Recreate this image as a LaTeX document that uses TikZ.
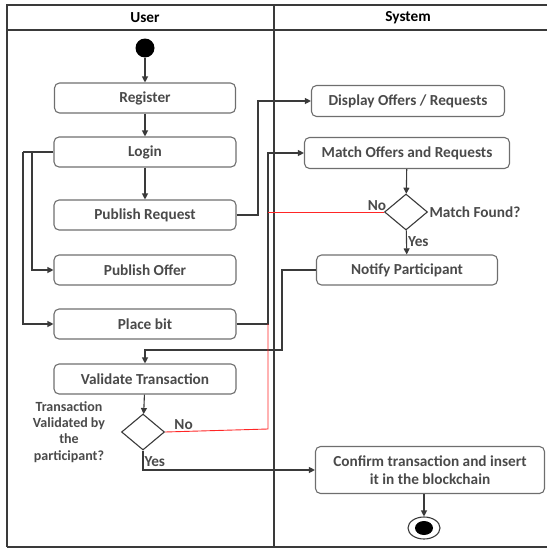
\documentclass[tikz,border=0pt]{standalone}
\usepackage{fontspec}
\setmainfont{Carlito}
\usetikzlibrary{arrows.meta,shapes.geometric}
\definecolor{linegray}{HTML}{3A3A3A}
\definecolor{boxgray}{HTML}{6E6E6E}
\definecolor{textgray}{HTML}{4A4A4A}
\begin{document}
\begin{tikzpicture}[x=1pt, y=-1pt, line width=1.1pt, font=\fontsize{15.3}{18}\selectfont\bfseries,
    activity/.style={draw=boxgray, rounded corners=5pt, minimum height=30pt, text=textgray, inner sep=2pt},
    decision/.style={draw=linegray, diamond, minimum width=43pt, minimum height=36pt, inner sep=0pt},
    flow/.style={draw=linegray, -{Triangle[length=6pt,width=6pt]}},
    back/.style={draw=red!85!white, line width=0.9pt},
    lbl/.style={text=textgray, inner sep=1pt}]
    \useasboundingbox (0,0) rectangle (547,549);

    % swimlanes
    \draw[linegray] (7,547) -- (7,5) -- (547,5);
    \draw[linegray] (7,30) -- (547,30);
    \draw[linegray] (7,547) -- (547,547);
    \draw[linegray] (274,5) -- (274,547);
    \node[text=black] (lane user) at (145,18) {User};
    \node[text=black] (lane system) at (408,18) {System};

    % user lane
    \node[circle, fill=black, minimum size=19pt, inner sep=0pt] (start) at (145,48) {};
    \node[activity, minimum width=181pt] (register) at (145,98) {Register};
    \node[activity, minimum width=182pt] (login) at (145,152) {Login};
    \node[activity, minimum width=182pt] (pubreq) at (145,215) {Publish Request};
    \node[activity, minimum width=182pt] (puboffer) at (145,270) {Publish Offer};
    \node[activity, minimum width=182pt] (placebid) at (145,324) {Place bit};
    \node[activity, minimum width=182pt] (validate) at (145,379) {Validate Transaction};
    \node[decision] (valdec) at (143,432) {};
    \node[lbl, align=center, font=\fontsize{14}{16.3}\selectfont\bfseries] (valq) at (69,432) {Transaction\\Validated by\\the\\participant?};

    % system lane
    \node[activity, minimum width=193pt, minimum height=31pt] (display) at (408,101) {Display Offers / Requests};
    \node[activity, minimum width=205pt, minimum height=31pt] (match) at (407,153) {Match Offers and Requests};
    \node[decision] (matchdec) at (406,212) {};
    \node[lbl, anchor=west] (matchq) at (matchdec.east) {Match Found?};
    \node[activity, minimum width=181pt] (notify) at (407,270) {Notify Participant};
    \node[activity, minimum width=229pt, minimum height=47pt, align=center] (confirm) at (430,470) {Confirm transaction and insert\\it in the blockchain};
    \node[ellipse, draw=linegray, minimum width=32pt, minimum height=22pt, inner sep=0pt] (end) at (424,528) {};
    \fill[black] (end) ellipse (9pt and 7pt);

    \coordinate (offerfork) at (32,152);
    \coordinate (bidfork) at (23,152);
    \coordinate (reqturn) at (258,215);
    \coordinate (bidturn) at (268,324);
    \coordinate (noturn) at (268,429);
    \coordinate (notifyturn) at (282,270);
    \coordinate (notifydrop) at (282,350);
    \coordinate (yesturn) at (143,470);

    % connectors
    \draw[flow] (start) -- (register);
    \draw[flow] (register) -- (login);
    \draw[flow] (login) -- (pubreq);
    \draw[linegray] (login.west) -- (bidfork);
    \draw[flow] (bidfork) |- (placebid.west);
    \draw[flow] (offerfork) |- (puboffer.west);
    \draw[flow] (pubreq.east) -- (reqturn) |- (display.west);
    \draw[flow] (placebid.east) -- (bidturn) |- (match.west);
    \draw[flow] (match) -- (matchdec);
    \draw[flow] (matchdec) -- node[lbl, right, pos=0.45] {Yes} (notify);
    \draw[back] (matchdec.west) -- node[lbl, above, pos=0.06, text=textgray] {No} (bidturn |- matchdec.west);
    \draw[flow] (notify.west) -- (notifyturn) -- (notifydrop) -| (validate.north);
    \draw[flow] (validate) -- (valdec);
    \draw[back] (valdec.east) -- node[lbl, above, pos=0.18] {No} (noturn) -- (bidturn);
    \draw[flow] (valdec.south) -- node[lbl, right, pos=0.55] {Yes} (yesturn) -- (confirm.west);
    \draw[flow] (confirm.south -| end) -- (end);
\end{tikzpicture}
\end{document}
